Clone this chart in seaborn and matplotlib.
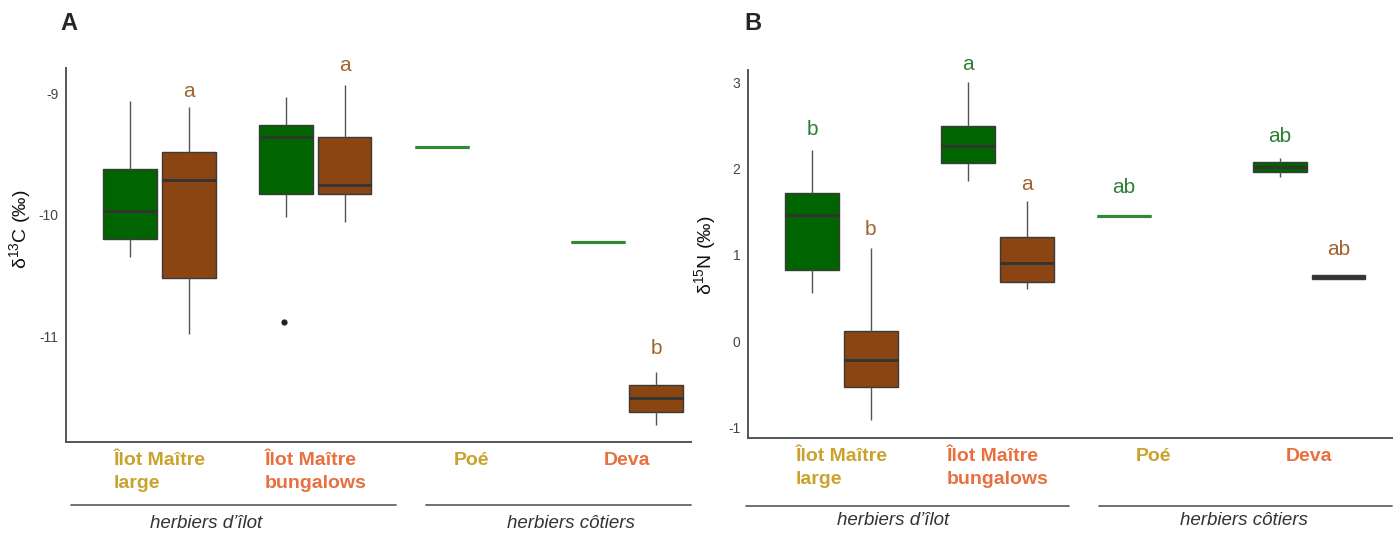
import pandas as pd
import numpy as np
import matplotlib
matplotlib.use("Agg")
import matplotlib.pyplot as plt
import seaborn as sns

# Categories
sites = ["Îlot Maître\nlarge", "Îlot Maître\nbungalows", "Poé", "Deva"]
site_colors = ["#C9A32C", "#E8703E", "#C9A32C", "#E8703E"]
types = ["vert", "brun"]
groups = ["herbiers d’îlot", "herbiers côtiers"]

# Panel A - d13C (5-number samples: min, Q1, median, Q3, max)
d13c_large_vert = [-10.35, -10.20, -9.97, -9.62, -9.06]
d13c_large_brun = [-10.98, -10.52, -9.71, -9.48, -9.11]
d13c_bung_vert = [-10.02, -9.83, -9.36, -9.26, -9.03]
d13c_bung_brun = [-10.06, -9.83, -9.75, -9.36, -8.93]
d13c_poe_vert = [-9.44]
d13c_deva_vert = [-10.22]
d13c_deva_brun = [-11.73, -11.62, -11.51, -11.40, -11.29]
d13c_outlier_site = ["Îlot Maître\nbungalows"]
d13c_outlier_type = ["vert"]
d13c_outlier_val = [-10.88]
d13c_let_site = ["Îlot Maître\nlarge", "Îlot Maître\nbungalows", "Deva"]
d13c_let_type = ["brun", "brun", "brun"]
d13c_let_text = ["a", "a", "b"]
d13c_let_y = [-8.98, -8.77, -11.10]

# Panel B - d15N
d15n_large_vert = [0.56, 0.83, 1.46, 1.72, 2.21]
d15n_large_brun = [-0.91, -0.53, -0.22, 0.12, 1.08]
d15n_bung_vert = [1.86, 2.06, 2.26, 2.49, 3.00]
d15n_bung_brun = [0.61, 0.69, 0.91, 1.21, 1.62]
d15n_poe_vert = [1.45]
d15n_deva_vert = [1.90, 1.96, 2.02, 2.07, 2.12]
d15n_deva_brun = [0.72, 0.725, 0.745, 0.765, 0.77]
d15n_let_site = ["Îlot Maître\nlarge", "Îlot Maître\nlarge", "Îlot Maître\nbungalows",
                 "Îlot Maître\nbungalows", "Poé", "Deva", "Deva"]
d15n_let_type = ["vert", "brun", "vert", "brun", "vert", "vert", "brun"]
d15n_let_text = ["b", "b", "a", "a", "ab", "ab", "ab"]
d15n_let_y = [2.45, 1.29, 3.20, 1.81, 1.78, 2.37, 1.06]


def long_df(samples):
    rows = []
    for (site, typ), vals in samples.items():
        for v in vals:
            rows.append({"site": site, "type": typ, "val": v})
    return pd.DataFrame(rows)


df_a = long_df({
    (sites[0], "vert"): d13c_large_vert, (sites[0], "brun"): d13c_large_brun,
    (sites[1], "vert"): d13c_bung_vert, (sites[1], "brun"): d13c_bung_brun,
    (sites[2], "vert"): d13c_poe_vert,
    (sites[3], "vert"): d13c_deva_vert, (sites[3], "brun"): d13c_deva_brun,
})
df_b = long_df({
    (sites[0], "vert"): d15n_large_vert, (sites[0], "brun"): d15n_large_brun,
    (sites[1], "vert"): d15n_bung_vert, (sites[1], "brun"): d15n_bung_brun,
    (sites[2], "vert"): d15n_poe_vert,
    (sites[3], "vert"): d15n_deva_vert, (sites[3], "brun"): d15n_deva_brun,
})
out_a = pd.DataFrame({"site": d13c_outlier_site, "type": d13c_outlier_type, "val": d13c_outlier_val})

sns.set_theme(style="white")
plt.rcParams["font.family"] = ["Liberation Sans", "DejaVu Sans"]
plt.rcParams["mathtext.fontset"] = "custom"
plt.rcParams["mathtext.rm"] = "Liberation Sans"
plt.rcParams["mathtext.it"] = "Liberation Sans:italic"
plt.rcParams["axes.unicode_minus"] = False

palette = {"vert": "#006400", "brun": "#8B4513"}
letter_colors = {"vert": "#2E8032", "brun": "#A0652F"}
offsets = {"vert": -0.1875, "brun": 0.1875}

fig = plt.figure(figsize=(13.97, 5.35), dpi=100)
ax_a = fig.add_axes([0.0472, 0.1738, 0.4474, 0.6991])
ax_b = fig.add_axes([0.5354, 0.1813, 0.4610, 0.6879])


def draw_panel(ax, df, ylabel, let_site, let_type, let_text, let_y):
    counts = df.groupby(["site", "type"])["val"].transform("count")
    multi = df[counts > 1]
    single = df[counts == 1]
    sns.boxplot(data=multi, x="site", y="val", hue="type", order=sites, hue_order=types,
                dodge=True, palette=palette, saturation=1, width=0.75, gap=0.08,
                whis=(0, 100), linecolor="#3a3a3a", linewidth=1, showcaps=False,
                legend=False, whiskerprops={"color": "#555555", "linewidth": 1},
                medianprops={"color": "#333333", "linewidth": 2}, ax=ax)
    sns.boxplot(data=single, x="site", y="val", hue="type", order=sites, hue_order=types,
                dodge=True, palette=palette, saturation=1, width=0.75, gap=0.08,
                whis=(0, 100), linecolor="#2E8B2E", linewidth=2.2, showcaps=False,
                legend=False, medianprops={"color": "#2E8B2E", "linewidth": 2.2}, ax=ax)
    for s, t, txt, y in zip(let_site, let_type, let_text, let_y):
        ax.text(sites.index(s) + offsets[t], y, txt, ha="center", va="center",
                fontsize=15, color=letter_colors[t])
    ax.set_xlabel("")
    ax.set_ylabel(ylabel, fontsize=14, color="#111111")
    sns.despine(ax=ax)
    for sp in ("left", "bottom"):
        ax.spines[sp].set_color("#555555")
        ax.spines[sp].set_linewidth(1.4)
    ax.tick_params(axis="both", length=2.5, width=1, color="#555555")
    ax.tick_params(axis="x", pad=5)
    ax.tick_params(axis="y", labelsize=10, labelcolor="#444444", pad=3)
    ax.set_xticks(range(len(sites)))
    ax.set_xticklabels(sites, fontsize=14, fontweight="bold", linespacing=1.4)
    for lab, c in zip(ax.get_xticklabels(), site_colors):
        lab.set_color(c)
        lab.set_multialignment("left")


draw_panel(ax_a, df_a, "δ$^{13}$C (‰)", d13c_let_site, d13c_let_type, d13c_let_text, d13c_let_y)
sns.stripplot(data=out_a, x="site", y="val", hue="type", order=sites, hue_order=types,
              dodge=True, jitter=False, palette={"vert": "#222222", "brun": "#222222"},
              size=4.5, legend=False, ax=ax_a)
draw_panel(ax_b, df_b, "δ$^{15}$N (‰)", d15n_let_site, d15n_let_type, d15n_let_text, d15n_let_y)

ax_a.set_xlim(-0.6, 3.41)
ax_a.set_ylim(-11.87, -8.79)
ax_a.set_yticks([-11, -10, -9])
ax_a.set_xlabel("")
ax_a.yaxis.set_label_coords(-0.053, 0.57)

ax_b.set_xlim(-0.6, 3.53)
ax_b.set_ylim(-1.12, 3.14)
ax_b.set_yticks([-1, 0, 1, 2, 3])
ax_b.yaxis.set_label_coords(-0.047, 0.497)

# group brackets under the site labels
brackets = {
    ax_a: ([(-0.57, 1.52), (1.71, 3.41)], [0.30, 2.64], -0.168, -0.217),
    ax_b: ([(-0.61, 1.46), (1.65, 3.53)], [0.33, 2.58], -0.185, -0.223),
}
for ax, (spans, centers, yl, yt) in brackets.items():
    tr = ax.get_xaxis_transform()
    for (x0, x1), xc, g in zip(spans, centers, groups):
        ax.plot([x0, x1], [yl, yl], color="#666666", lw=1.3, transform=tr, clip_on=False)
        ax.text(xc, yt, g, transform=tr, ha="center", va="center", fontsize=13.5,
                style="italic", color="#333333")

fig.text(0.043, 0.957, "A", fontsize=17, fontweight="bold", va="center")
fig.text(0.5326, 0.957, "B", fontsize=17, fontweight="bold", va="center")

fig.savefig("out.png", dpi=100, facecolor="white")
